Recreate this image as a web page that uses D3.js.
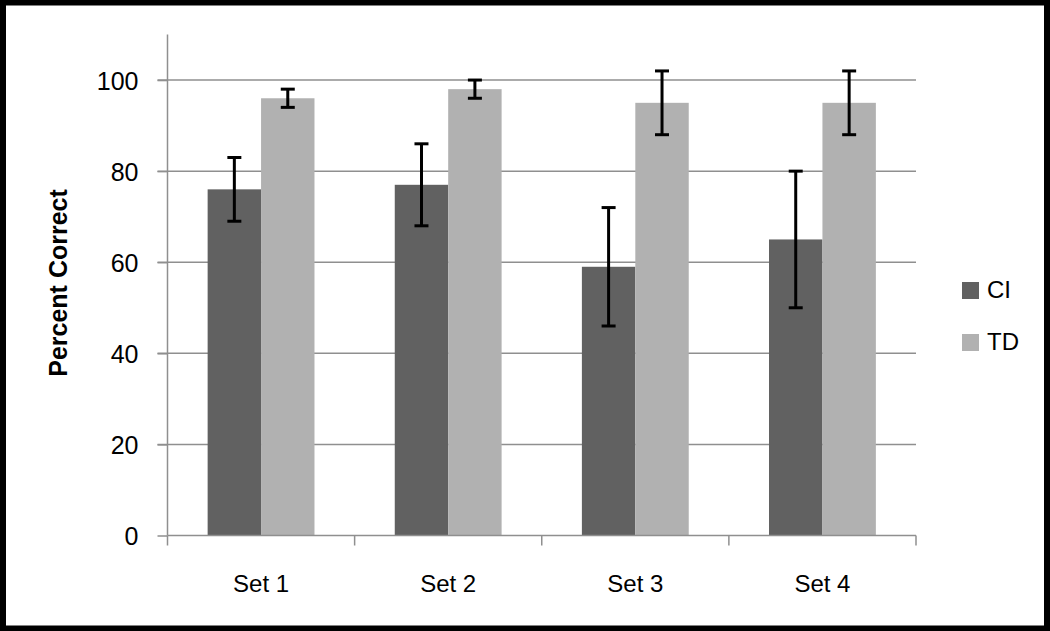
<!DOCTYPE html>
<html>
<head>
<meta charset="utf-8">
<script src="https://cdn.jsdelivr.net/npm/d3@7"></script>
<style>
  html, body { margin: 0; padding: 0; background: #fff; overflow: hidden; }
  svg { display: block; }
  text { font-family: "Liberation Sans", Arial, sans-serif; fill: #000; }
</style>
</head>
<body>
<svg id="chart" width="1050" height="631"></svg>
<script>
const categories = ["Set 1", "Set 2", "Set 3", "Set 4"];
const seriesNames = ["CI", "TD"];
const ciValues = [76, 77, 59, 65];
const tdValues = [96, 98, 95, 95];
const ciErrors = [7, 9, 13, 15];
const tdErrors = [2, 2, 7, 7];
const yTicks = [0, 20, 40, 60, 80, 100];
const colors = ["#616161", "#b1b1b1"];

const svg = d3.select("#chart");
const W = 1050, H = 631;

// outer frame
svg.append("rect").attr("x", 3).attr("y", 2.5).attr("width", W - 6).attr("height", H - 5)
  .attr("fill", "#fff").attr("stroke", "#000").attr("stroke-width", 6);

const pLeft = 167.5, pRight = 916, pTop = 34.5, pBottom = 535.5;

const x0 = d3.scaleBand().domain(categories).range([pLeft, pRight]).paddingInner(0.429).paddingOuter(0.2145);
const x1 = d3.scaleBand().domain(seriesNames).range([0, x0.bandwidth()]);
const xTickScale = d3.scaleLinear().domain([0, categories.length]).range([pLeft, pRight]);
const y = d3.scaleLinear().domain([0, 110]).range([pBottom, pTop]);

const gridColor = "#8f8f8f";

// gridlines with left tick stubs
svg.append("g").selectAll("line").data(yTicks.filter(d => d > 0)).join("line")
  .attr("x1", pLeft - 10).attr("x2", pRight)
  .attr("y1", d => y(d)).attr("y2", d => y(d))
  .attr("stroke", gridColor).attr("stroke-width", 1.5);

// y axis
const yAxis = d3.axisLeft(y).tickValues(yTicks).tickSize(10).tickPadding(19).tickFormat(d3.format("d"));
const gy = svg.append("g").attr("transform", `translate(${pLeft},0)`).call(yAxis);
gy.select(".domain").attr("stroke", gridColor).attr("stroke-width", 1.5)
  .attr("d", `M0,${y(110)}V${pBottom}`);
gy.selectAll(".tick line").attr("stroke", gridColor).attr("stroke-width", 1.5);
gy.selectAll(".tick text").attr("font-size", 25).attr("font-family", "Liberation Sans, Arial, sans-serif")
  .attr("fill", "#000").attr("dy", "0.36em");

// bars
const data = categories.map((c, i) => ({
  cat: c,
  vals: [
    { s: "CI", v: ciValues[i], e: ciErrors[i] },
    { s: "TD", v: tdValues[i], e: tdErrors[i] }
  ]
}));

const groups = svg.append("g").selectAll("g").data(data).join("g")
  .attr("transform", d => `translate(${x0(d.cat)},0)`);

groups.selectAll("rect").data(d => d.vals).join("rect")
  .attr("x", d => x1(d.s)).attr("width", x1.bandwidth())
  .attr("y", d => y(d.v)).attr("height", d => pBottom - y(d.v))
  .attr("fill", (d, i) => colors[i]);

// x axis (category boundaries ticks)
const xAxisG = svg.append("g");
xAxisG.append("line").attr("x1", pLeft).attr("x2", pRight).attr("y1", pBottom).attr("y2", pBottom)
  .attr("stroke", gridColor).attr("stroke-width", 1.5);
xAxisG.selectAll("line.tk").data(d3.range(categories.length + 1)).join("line").attr("class", "tk")
  .attr("x1", d => xTickScale(d)).attr("x2", d => xTickScale(d))
  .attr("y1", pBottom).attr("y2", pBottom + 10)
  .attr("stroke", gridColor).attr("stroke-width", 1.5);
xAxisG.selectAll("text").data(categories).join("text")
  .attr("x", d => x0(d) + x0.bandwidth() / 2).attr("y", 591.5)
  .attr("text-anchor", "middle").attr("font-size", 24).text(d => d);

// error bars
const eb = groups.selectAll("g.err").data(d => d.vals).join("g").attr("class", "err");
const capW = 7;
eb.append("line")
  .attr("x1", d => x1(d.s) + x1.bandwidth() / 2).attr("x2", d => x1(d.s) + x1.bandwidth() / 2)
  .attr("y1", d => y(d.v + d.e)).attr("y2", d => y(d.v - d.e))
  .attr("stroke", "#000").attr("stroke-width", 3);
eb.selectAll("line.cap").data(d => [{ d, v: d.v + d.e }, { d, v: d.v - d.e }]).join("line").attr("class", "cap")
  .attr("x1", p => x1(p.d.s) + x1.bandwidth() / 2 - capW).attr("x2", p => x1(p.d.s) + x1.bandwidth() / 2 + capW)
  .attr("y1", p => y(p.v)).attr("y2", p => y(p.v))
  .attr("stroke", "#000").attr("stroke-width", 3);

// y axis title
svg.append("text")
  .attr("transform", `translate(67,283) rotate(-90)`)
  .attr("text-anchor", "middle").attr("font-size", 25).attr("font-weight", "bold")
  .text("Percent Correct");

// legend
const legend = svg.append("g").selectAll("g").data(seriesNames).join("g")
  .attr("transform", (d, i) => `translate(962,${282 + i * 52})`);
legend.append("rect").attr("width", 17).attr("height", 17).attr("fill", (d, i) => colors[i]);
legend.append("text").attr("x", 25).attr("y", 16).attr("font-size", 24).text(d => d);
</script>
</body>
</html>
